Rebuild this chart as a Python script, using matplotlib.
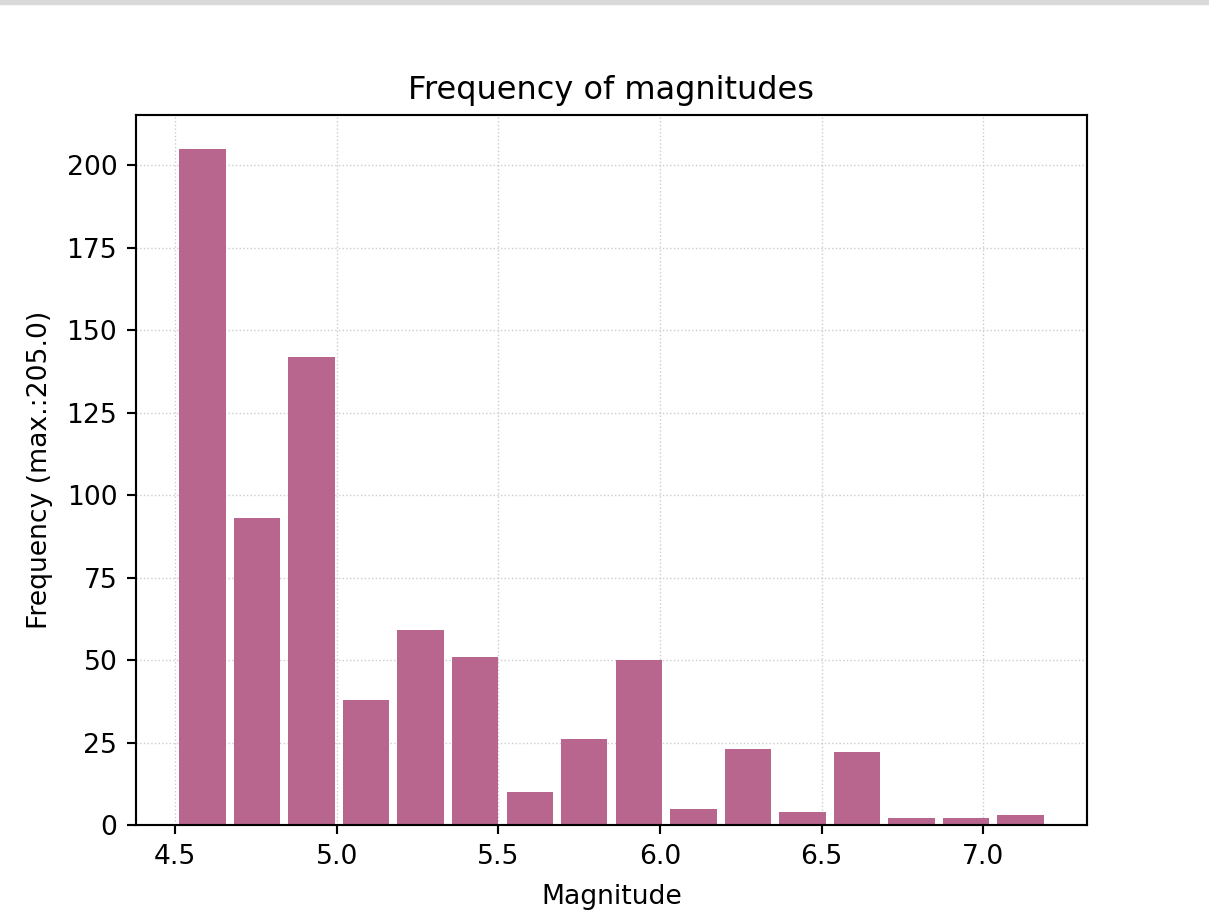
import numpy as np
import matplotlib
matplotlib.use("Agg")
import matplotlib.pyplot as plt
from matplotlib.patches import Rectangle

# histogram counts, 16 bins from 4.5 to 7.2
bin_edges = np.linspace(4.5, 7.2, 17)
counts = [205, 93, 142, 38, 59, 51, 10, 26, 50, 5, 23, 4, 22, 2, 2, 3]
centers = (bin_edges[:-1] + bin_edges[1:]) / 2

s = 1.92  # scale of the original render
plt.rcParams["font.size"] = 10 * s

fig = plt.figure(figsize=(12.09, 9.21), dpi=100)
W, H = 1209, 921
ax = fig.add_axes([136 / W, 1 - 825 / H, (1087 - 136) / W, (825 - 115) / H])

# grey strip at the very top of the screenshot
fig.patches.append(Rectangle((0, 1 - 4 / H), 1, 4 / H, transform=fig.transFigure,
                             color="#d9d9d9", zorder=0))

ax.hist(centers, bins=bin_edges, weights=counts, rwidth=0.85, color="#b8668e", zorder=2)
ax.grid(True, linestyle=":", color="#cccccc", linewidth=1.0, zorder=0)
ax.set_axisbelow(True)

ax.set_title("Frequency of magnitudes", fontsize=12 * s, pad=6 * s)
ax.set_xlabel("Magnitude", labelpad=4 * s + 3)
ax.set_ylabel("Frequency (max.:%.1f)" % max(counts), labelpad=4 * s + 2)

for sp in ax.spines.values():
    sp.set_linewidth(0.8 * s)
ax.tick_params(length=3.5 * s, width=0.8 * s, pad=3.5 * s)

fig.savefig("out.png", dpi=100)
